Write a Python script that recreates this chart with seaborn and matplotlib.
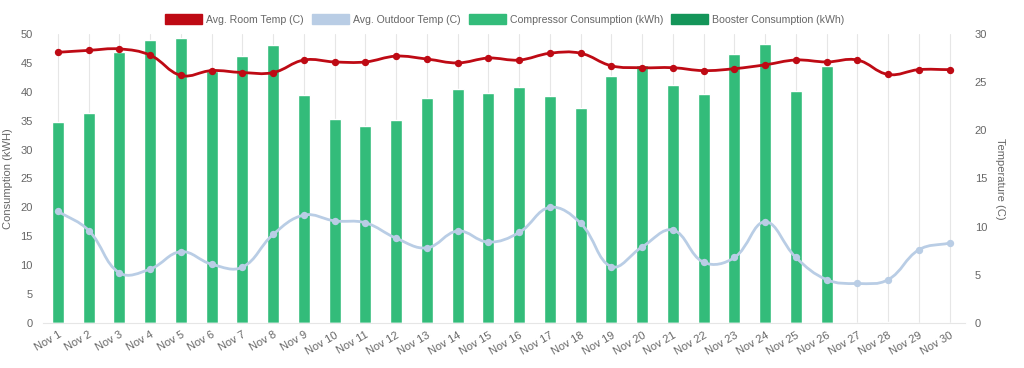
import numpy as np
import pandas as pd
import matplotlib
matplotlib.use("Agg")
import matplotlib.pyplot as plt
from matplotlib.path import Path
from matplotlib.patches import PathPatch, Patch
import seaborn as sns

days = ["Nov %d" % d for d in range(1, 31)]

compressor = [34.8, 36.3, 46.9, 49.0, 49.3, 43.6, 46.2, 48.1, 39.4, 35.3,
              34.1, 35.2, 38.9, 40.5, 39.8, 40.9, 39.2, 37.2, 42.8, 44.6,
              41.2, 39.7, 46.5, 48.2, 40.2, 44.5, 0, 0.1, 0, 0]
booster = [0] * 30

room_temp = [28.1, 28.3, 28.45, 27.8, 25.7, 26.2, 26.0, 26.0, 27.3, 27.1,
             27.1, 27.7, 27.4, 27.0, 27.5, 27.3, 28.0, 28.0, 26.7, 26.5,
             26.5, 26.2, 26.4, 26.8, 27.3, 27.1, 27.3, 25.8, 26.3, 26.3]
outdoor_temp = [11.6, 9.6, 5.2, 5.6, 7.4, 6.1, 5.8, 9.2, 11.2, 10.6,
                10.4, 8.8, 7.8, 9.55, 8.4, 9.4, 12.0, 10.35, 5.85, 7.9,
                9.65, 6.3, 6.8, 10.5, 6.8, 4.5, 4.1, 4.5, 7.6, 8.3]

RED = "#be0a14"
BLUE = "#b9cde5"
GREEN = "#33bc7a"
DKGREEN = "#149559"
TXT = "#666666"

sns.set_style("white")
plt.rcParams["font.family"] = ["Liberation Sans", "DejaVu Sans"]

df = pd.DataFrame({"day": days, "compressor": compressor, "booster": booster})

fig = plt.figure(figsize=(10.24, 3.68), dpi=100)
ax = fig.add_axes([0.0416, 0.1223, 0.9008, 0.7853])

sns.barplot(data=df, x="day", y="compressor", color=GREEN, saturation=1,
            width=0.39, ax=ax, zorder=2)
sns.barplot(data=df, x="day", y="booster", color=DKGREEN, saturation=1,
            width=0.39, ax=ax, zorder=2)

ax.set_xlim(-0.5, 29.5)
ax.set_ylim(0, 50)
ax.set_yticks(range(0, 51, 5))
ax.set_xlabel("")
ax.set_ylabel("Consumption (kWH)", color=TXT, fontsize=8, va="center")
ax.yaxis.set_label_coords(-0.037, 0.5)
ax.grid(axis="x", color="#e6e6e6", linewidth=0.8, zorder=0)
ax.set_axisbelow(True)
for s in ["top", "right", "left"]:
    ax.spines[s].set_visible(False)
ax.spines["bottom"].set_color("#e6e6e6")
ax.tick_params(axis="x", colors="#dddddd", labelcolor=TXT, length=4,
               labelsize=8, rotation=30, pad=1)
ax.tick_params(axis="y", length=0, labelcolor=TXT, labelsize=8, pad=7)
for lab in ax.get_xticklabels():
    lab.set_ha("right")
    lab.set_rotation_mode("anchor")

ax2 = ax.twinx()
ax2.set_ylim(0, 30)
ax2.set_yticks(range(0, 31, 5))
ax2.set_ylabel("Temperature (C)", color=TXT, fontsize=8, rotation=270,
               va="center")
ax2.yaxis.set_label_coords(1.038, 0.5)
for s in ["top", "right", "left", "bottom"]:
    ax2.spines[s].set_visible(False)
ax2.tick_params(axis="y", length=0, labelcolor=TXT, labelsize=8, pad=7)


def smooth_path(xs, ys, yscale, tension=0.4):
    # chart.js style bezier control points
    pts = np.column_stack([xs, np.asarray(ys) * yscale])
    n = len(pts)
    verts = [tuple(pts[0])]
    codes = [Path.MOVETO]
    cps = []
    for i in range(n):
        p0 = pts[max(i - 1, 0)]
        p1 = pts[i]
        p2 = pts[min(i + 1, n - 1)]
        d01 = np.hypot(*(p1 - p0))
        d12 = np.hypot(*(p2 - p1))
        tot = d01 + d12 if d01 + d12 > 0 else 1
        fa = tension * d01 / tot
        fb = tension * d12 / tot
        cps.append((p1 - fa * (p2 - p0), p1 + fb * (p2 - p0)))
    for i in range(1, n):
        verts += [tuple(cps[i - 1][1]), tuple(cps[i][0]), tuple(pts[i])]
        codes += [Path.CURVE4] * 3
    verts = [(x, y / yscale) for x, y in verts]
    return Path(verts, codes)


xs = np.arange(30)
yscale = 9.63 / 30.76
for vals, col in [(outdoor_temp, BLUE), (room_temp, RED)]:
    ax2.add_patch(PathPatch(smooth_path(xs, vals, yscale), facecolor="none",
                            edgecolor=col, linewidth=2.0, zorder=3))
    sns.scatterplot(x=xs, y=vals, color=col, s=28, edgecolor=col,
                    linewidth=0, ax=ax2, zorder=4)

handles = [Patch(facecolor=RED, edgecolor=RED),
           Patch(facecolor=BLUE, edgecolor=BLUE),
           Patch(facecolor=GREEN, edgecolor=GREEN),
           Patch(facecolor=DKGREEN, edgecolor=DKGREEN)]
labels = ["Avg. Room Temp (C)", "Avg. Outdoor Temp (C)",
          "Compressor Consumption (kWh)", "Booster Consumption (kWh)"]
leg = fig.legend(handles, labels, loc="center", bbox_to_anchor=(0.493, 0.948),
                 ncol=4, frameon=False, fontsize=7.6, handlelength=3.5,
                 handleheight=1.2, handletextpad=0.4, columnspacing=0.75)
for t in leg.get_texts():
    t.set_color(TXT)

fig.savefig("out.png", dpi=100)
